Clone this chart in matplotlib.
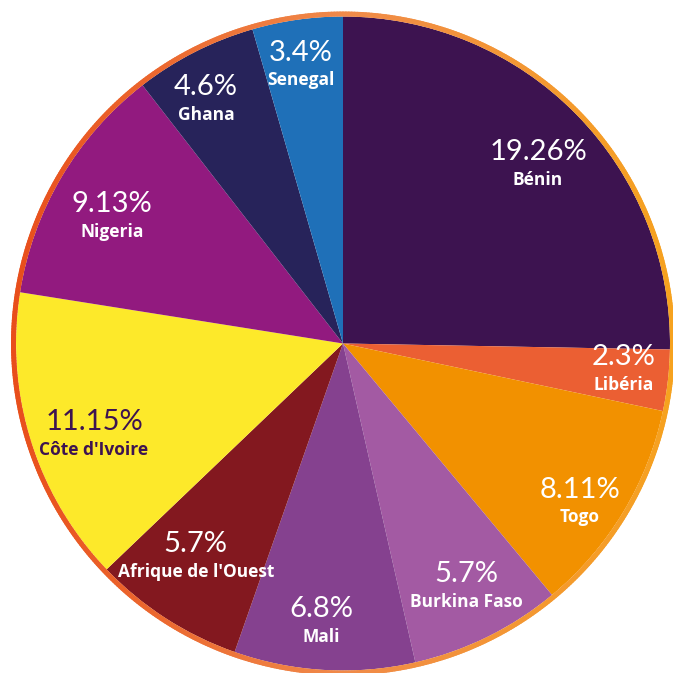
import numpy as np
import matplotlib.pyplot as plt
from matplotlib.collections import LineCollection
from matplotlib.colors import LinearSegmentedColormap

labels = ['Bénin', 'Libéria', 'Togo', 'Burkina Faso', 'Mali',
          "Afrique de l'Ouest", "Côte d'Ivoire", 'Nigeria', 'Ghana', 'Senegal']
values = [19.26, 2.3, 8.11, 5.7, 6.8, 5.7, 11.15, 9.13, 4.6, 3.4]
pct_text = ['19.26%', '2.3%', '8.11%', '5.7%', '6.8%', '5.7%', '11.15%', '9.13%', '4.6%', '3.4%']
colors = ['#3d1350', '#eb5f33', '#f29100', '#a35aa3', '#85418f',
          '#83181f', '#fde92a', '#921a7f', '#27235a', '#1f70b8']
text_colors = ['white'] * 6 + ['#3d1350'] + ['white'] * 3
# label placement tweaks: radius and angle shift (degrees)
label_r = [0.806, 0.863, 0.874, 0.836, 0.857, 0.796, 0.812, 0.805, 0.852, 0.857]
label_da = [-2.2, 0.9, -2.9, 0.5, -1.2, -1.6, 3.0, 2.0, 2.5, 0.6]

R = 327.0
fig = plt.figure(figsize=(6.73, 6.73), dpi=100)
ax = fig.add_axes([0, 0, 1, 1])

wedges, _ = ax.pie(values, colors=colors, startangle=90, counterclock=False,
                   radius=1, wedgeprops=dict(linewidth=0))

for w, p, name, tc, r, da in zip(wedges, pct_text, labels, text_colors, label_r, label_da):
    ang = np.deg2rad((w.theta1 + w.theta2) / 2 + da)
    x, y = r * np.cos(ang), r * np.sin(ang)
    ax.text(x, y + 0.042, p, ha='center', va='center', color=tc,
            fontsize=21, family='Lato', fontweight='normal')
    ax.text(x, y - 0.043, name, ha='center', va='center', color=tc,
            fontsize=12.5, family='Open Sans', fontweight='bold')

# gradient ring around the pie
t = np.linspace(0, 2 * np.pi, 721)
rr = 1 + 2.5 / R
pts = np.column_stack([rr * np.cos(t), rr * np.sin(t)])
segs = np.stack([pts[:-1], pts[1:]], axis=1)
cmap = LinearSegmentedColormap.from_list('ring', ['#e84e1b', '#f08a4a', '#f6a21f'])
xm = (np.cos(t[:-1]) + np.cos(t[1:])) / 2
lc = LineCollection(segs, colors=cmap((xm + 1) / 2), linewidths=3.6, capstyle='round')
ax.add_collection(lc)

ax.set_xlim(-343 / R, (673 - 343) / R)
ax.set_ylim(-329.5 / R, (673 - 329.5) / R)
ax.set_aspect('equal')
ax.axis('off')

fig.savefig('out.png', dpi=100, facecolor='white')
